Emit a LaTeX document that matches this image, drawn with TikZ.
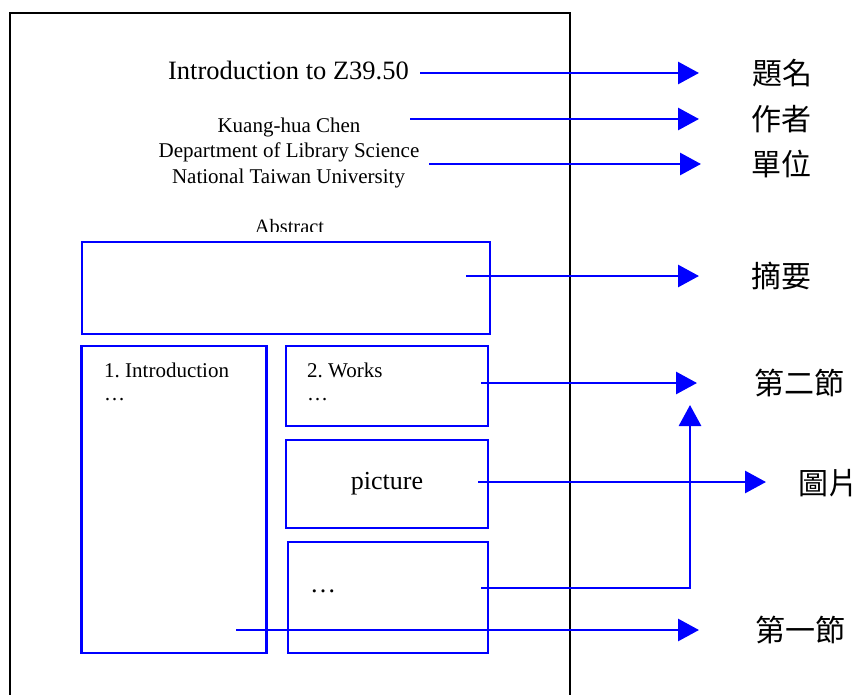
\documentclass[tikz,border=0pt]{standalone}
\usepackage{fontspec}
\setmainfont{Liberation Serif}
\newfontfamily\cjk{Noto Sans CJK TC}
\usetikzlibrary{arrows.meta}
\definecolor{pblue}{RGB}{0,0,255}
\frenchspacing
\begin{document}
\begin{tikzpicture}[x=1pt,y=-1pt,
  box/.style={draw=pblue,line width=2.9pt,minimum width=#1,inner sep=0pt},
  lab/.style={font=\cjk\fontsize{30}{32}\selectfont,inner sep=0pt},
  conn/.style={draw=pblue,line width=2.9pt},
  arr/.style={conn,-{Triangle[length=21pt,width=22pt]}},
  txt/.style={inner sep=0pt}]
\useasboundingbox (0,0) rectangle (861,695);
\fill[white] (0,0) rectangle (861,695);
% page
\draw[line width=2.8pt] (10,697) -- (10,13) -- (570,13) -- (570,697);
% header texts
\node[txt,anchor=base,font=\fontsize{26.5}{30}\selectfont] (title) at (288.5,80) {Introduction to Z39.50};
\node[txt,anchor=base,font=\fontsize{21}{24}\selectfont] (author) at (289,133) {Kuang-hua Chen};
\node[txt,anchor=base,font=\fontsize{21}{24}\selectfont] (dept) at (289,158) {Department of Library Science};
\node[txt,anchor=base,font=\fontsize{21}{24}\selectfont] (univ) at (288.5,183) {National Taiwan University};
\begin{scope}
\clip (0,0) rectangle (861,231);
\node[txt,anchor=base,font=\fontsize{20.4}{24}\selectfont] (abstitle) at (289.5,233) {Abstract};
\end{scope}
% boxes
\node[box=408pt,minimum height=92pt] (abs) at (286,288) {};
\node[box=185pt,minimum height=307pt] (intro) at (174.3,499.5) {};
\node[box=202pt,minimum height=80pt] (works) at (387,386) {};
\node[box=202pt,minimum height=88pt,font=\fontsize{26}{30}\selectfont] (pic) at (387,484) {picture};
\node[box=200pt,minimum height=111pt] (more) at (388,597.5) {};
% box texts
\node[txt,anchor=base west,font=\fontsize{21}{24}\selectfont] (introt) at (104,377) {1. Introduction};
\node[txt,anchor=base west,font=\fontsize{21}{24}\selectfont] (introd) at (104,400) {\dots};
\node[txt,anchor=base west,font=\fontsize{21}{24}\selectfont] (workst) at (307,377) {2. Works};
\node[txt,anchor=base west,font=\fontsize{21}{24}\selectfont] (worksd) at (307,400) {\dots};
\node[txt,anchor=base west,font=\fontsize{26}{30}\selectfont] (mored) at (310,592) {\dots};
% labels
\node[lab] (l1) at (782,73) {題名};
\node[lab] (l2) at (781,119) {作者};
\node[lab] (l3) at (781,164) {單位};
\node[lab] (l4) at (781,276) {摘要};
\node[lab] (l5) at (799,383) {第二節};
\node[lab] (l6) at (828,483) {圖片};
\node[lab] (l7) at (800,630) {第一節};
% connector ends
\coordinate (s1) at (420,73);  \coordinate (e1) at (699,73);
\coordinate (s2) at (410,119); \coordinate (e2) at (699,119);
\coordinate (s3) at (429,164); \coordinate (e3) at (701,164);
\coordinate (s4) at (466,276); \coordinate (e4) at (699,276);
\coordinate (s5) at (481,383); \coordinate (e5) at (697,383);
\coordinate (s6) at (478,482); \coordinate (e6) at (766,482);
\coordinate (s7) at (481,588); \coordinate (k7) at (690,588); \coordinate (e7) at (690,405);
\coordinate (s8) at (236,630); \coordinate (e8) at (699,630);
\draw[arr] (s1) -- (e1);
\draw[arr] (s2) -- (e2);
\draw[arr] (s3) -- (e3);
\draw[arr] (s4) -- (e4);
\draw[arr] (s5) -- (e5);
\draw[arr] (s6) -- (e6);
\draw[arr] (s7) -- (k7) -- (e7);
\draw[arr] (s8) -- (e8);
\end{tikzpicture}
\end{document}
